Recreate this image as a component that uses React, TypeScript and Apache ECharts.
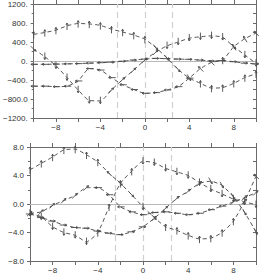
import React, { useEffect, useRef } from "react";
import * as echarts from "echarts";

// x positions (shared by all curves)
const xs = [-10, -9, -8, -7, -6, -5, -4, -3, -2, -1, 0, 1, 2, 3, 4, 5, 6, 7, 8, 9, 10];

// ---- top panel curves ----
const topA = [560, 600, 650, 740, 790, 780, 750, 670, 610, 545, 460, 280, 60, -180, -360, -470, -570, -560, -470, -350, -270];
const topD = [250, 90, -100, -350, -610, -830, -840, -610, -390, -190, 20, 190, 320, 400, 480, 510, 530, 500, 300, 126, -50];
const topE = [-70, -70, -65, -60, -55, -45, -35, -25, -5, 20, 40, 55, 50, 40, 35, 20, 0, 10, -15, -45, -60];
const topF = [-530, -530, -540, -530, -420, -160, -190, -350, -500, -600, -680, -666, -610, -540, -360, -160, -30, 20, 300, 470, 585];
// arrow directions (degrees, 0 = east, 90 = north)
const topAngA = [90, 90, 90, 90, 90, 90, 90, 90, 90, 90, 90, -50, -50, -50, -60, 90, 90, 90, 90, 90, 90];
const topAngD = [-45, -90, -90, -90, -90, -90, -90, 45, 45, 45, 45, 45, -90, -90, -90, -90, -90, -90, -45, -90, -90];
const topAngE = [180, 180, 180, 180, 180, 180, 180, 0, 0, 0, 0, 0, 0, 0, 0, 0, 0, 0, 0, 0, 0];
const topAngF = [180, 180, 180, 180, 180, 180, 180, 180, 180, 180, 180, 180, 180, 180, 180, 135, 135, 90, 120, 120, 135];

// ---- bottom panel curves ----
const botG = [4.8, 5.7, 6.6, 7.6, 7.7, 6.9, 5.9, 4.3, 2.9, 1.3, -0.4, -1.9, -3.2, -3.7, -4.4, -4.9, -4.8, -4.0, -2.4, 0.4, 3.9];
const botJ = [-1.3, -1.8, -3.2, -4.0, -4.4, -5.3, -4.0, -0.4, 2.9, 4.6, 6.0, 5.8, 5.0, 4.5, 4.0, 3.0, 2.1, 1.4, 0.7, 0.3, -0.1];
const botK = [-1.4, -1.9, -2.4, -2.95, -3.3, -3.4, -3.8, -4.1, -4.3, -3.9, -3.2, -2.0, -0.6, 0.8, 1.8, 2.9, 3.2, 2.6, 1.0, -1.2, -3.9];
const botL = [-1.3, -1.1, -0.2, 0.5, 1.2, 2.3, 2.3, 1.3, -0.4, -1.1, -1.5, -1.2, -1.1, -1.3, -1.5, -1.3, -0.8, -0.3, 0.3, 0.9, 1.6];
const botAngG = [90, 90, 90, 90, 90, 90, 90, 135, -45, -45, -90, -45, 90, 90, 90, 90, 90, 90, 90, 45, 135];
const botAngJ = [-90, -90, -90, -90, -90, -90, 90, 90, 90, 90, -90, -90, -90, -90, -90, -90, -90, -90, -90, -90, -90];
const botAngK = [0, 0, 0, 0, 0, 0, 0, 0, 0, 0, 0, 45, 45, 45, 45, 45, -60, -60, -60, -60, -60];
const botAngL = [45, 45, 45, 45, 45, 45, 180, 180, 180, 180, 180, 180, 180, 180, 180, 180, 180, 180, 45, 45, 45];

// tick labels
const xLabelVals = [-8, -4, 0, 4, 8];
const xLabelTexts = ["\u22128", "\u22124", "0", "4", "8"];
const topYVals = [-1200, -800, -400, 0, 400, 800, 1200];
const topYTexts = ["\u22121200.", "\u2212800.0", "\u2212400.", "0.", "400.", "800.", "1200."];
const botYVals = [-8, -4, 0, 4, 8];
const botYTexts = ["\u22128.0", "\u22124.0", "0.0", "4.0", "8.0"];
const refLinesX = [-2.5, 0, 2.5];

const FONT = "Liberation Sans";
const FRAME = "#6a6a6a";
const TXT = "#333";

function lookup(vals: number[], texts: string[]) {
  return (v: number) => {
    const i = vals.findIndex((q) => Math.abs(q - v) < 1e-6);
    return i >= 0 ? texts[i] : "";
  };
}

function arrowRender(params: any, api: any) {
  const p = api.coord([api.value(0), api.value(1)]);
  const a = (api.value(2) * Math.PI) / 180;
  const dx = Math.cos(a);
  const dy = -Math.sin(a);
  const L = 7;
  const hx = p[0] + dx * L * 0.4;
  const hy = p[1] + dy * L * 0.4;
  const tx = p[0] - dx * L * 0.6;
  const ty = p[1] - dy * L * 0.6;
  const h = 2.2;
  const a1 = a + (150 * Math.PI) / 180;
  const a2 = a - (150 * Math.PI) / 180;
  const w1 = [hx + h * Math.cos(a1), hy - h * Math.sin(a1)];
  const w2 = [hx + h * Math.cos(a2), hy - h * Math.sin(a2)];
  return {
    type: "group",
    children: [
      { type: "line", shape: { x1: tx, y1: ty, x2: hx, y2: hy }, style: { stroke: "#4a4a4a", lineWidth: 0.9 } },
      { type: "polyline", shape: { points: [w1, [hx, hy], w2] }, style: { stroke: "#4a4a4a", fill: "none", lineWidth: 0.9 } },
    ],
  };
}

function pairs(ys: number[]) {
  return xs.map((x, i) => [x, ys[i]]);
}
function arrows(list: [number[], number[]][]) {
  const out: number[][] = [];
  list.forEach(([ys, angs]) => xs.forEach((x, i) => out.push([x, ys[i], angs[i]])));
  return out;
}

function xAxes(gridIndex: number) {
  const base = {
    type: "value",
    gridIndex,
    min: -10,
    max: 10,
    interval: 2,
    splitLine: { show: false },
    axisLine: { onZero: false, lineStyle: { color: FRAME, width: 1 } },
    axisTick: { length: 4, lineStyle: { color: FRAME } },
  };
  return [
    {
      ...base,
      position: "bottom",
      axisLabel: {
        margin: 5,
        fontSize: 8,
        fontFamily: FONT,
        color: TXT,
        formatter: lookup(xLabelVals, xLabelTexts),
        showMinLabel: true,
        showMaxLabel: true,
      },
    },
    { ...base, position: "top", axisLabel: { show: false } },
  ];
}

function yAxes(gridIndex: number, min: number, max: number, interval: number, vals: number[], texts: string[]) {
  const base = {
    type: "value",
    gridIndex,
    min,
    max,
    interval,
    splitLine: { show: false },
    axisLine: { onZero: false, lineStyle: { color: FRAME, width: 1 } },
    minorTick: { show: true, splitNumber: 2, length: 2, lineStyle: { color: FRAME } },
  };
  return [
    {
      ...base,
      position: "left",
      axisTick: { length: 3, lineStyle: { color: FRAME } },
      axisLabel: { margin: 6, fontSize: 8, fontFamily: FONT, color: TXT, formatter: lookup(vals, texts) },
    },
    {
      ...base,
      position: "right",
      axisTick: { inside: true, length: 3, lineStyle: { color: FRAME } },
      minorTick: { show: true, splitNumber: 2, length: 3, lineStyle: { color: FRAME } },
      axisLabel: { show: false },
    },
  ];
}

function curve(ys: number[], xi: number, yi: number, withMarks: boolean) {
  const s: any = {
    type: "line",
    xAxisIndex: xi,
    yAxisIndex: yi,
    data: pairs(ys),
    showSymbol: false,
    smooth: 0.2,
    lineStyle: { color: "#555", width: 1, type: [4, 3] },
    z: 3,
  };
  if (withMarks) {
    s.markLine = {
      silent: true,
      symbol: ["none", "none"],
      label: { show: false },
      z: 1,
      data: [
        ...refLinesX.map((x) => ({ xAxis: x, lineStyle: { color: "#cfcfcf", width: 1.2, type: [6, 4] } })),
        { yAxis: 0, lineStyle: { color: "#b8b8b8", width: 1, type: "solid" } },
      ],
    };
  }
  return s;
}

export default function App() {
  const ref = useRef<HTMLDivElement>(null);
  useEffect(() => {
    if (!ref.current) return;
    const chart = echarts.init(ref.current, undefined, { renderer: "svg" });
    chart.setOption({
      animation: false,
      backgroundColor: "#fff",
      grid: [
        { left: 30, top: 4, width: 226, height: 114 },
        { left: 30, top: 147, width: 226, height: 114 },
      ],
      xAxis: [...xAxes(0), ...xAxes(1)],
      yAxis: [
        ...yAxes(0, -1200, 1200, 400, topYVals, topYTexts),
        ...yAxes(1, -8, 8, 4, botYVals, botYTexts),
      ],
      series: [
        curve(topA, 0, 0, true),
        curve(topD, 0, 0, false),
        curve(topE, 0, 0, false),
        curve(topF, 0, 0, false),
        {
          type: "custom",
          xAxisIndex: 0,
          yAxisIndex: 0,
          renderItem: arrowRender,
          encode: { x: 0, y: 1 },
          data: arrows([[topA, topAngA], [topD, topAngD], [topE, topAngE], [topF, topAngF]]),
          z: 4,
        },
        curve(botG, 2, 2, true),
        curve(botJ, 2, 2, false),
        curve(botK, 2, 2, false),
        curve(botL, 2, 2, false),
        {
          type: "custom",
          xAxisIndex: 2,
          yAxisIndex: 2,
          renderItem: arrowRender,
          encode: { x: 0, y: 1 },
          data: arrows([[botG, botAngG], [botJ, botAngJ], [botK, botAngK], [botL, botAngL]]),
          z: 4,
        },
      ],
    });
    return () => chart.dispose();
  }, []);
  return <div ref={ref} style={{ position: "absolute", left: 0, top: 0, width: 259, height: 276 }} />;
}
